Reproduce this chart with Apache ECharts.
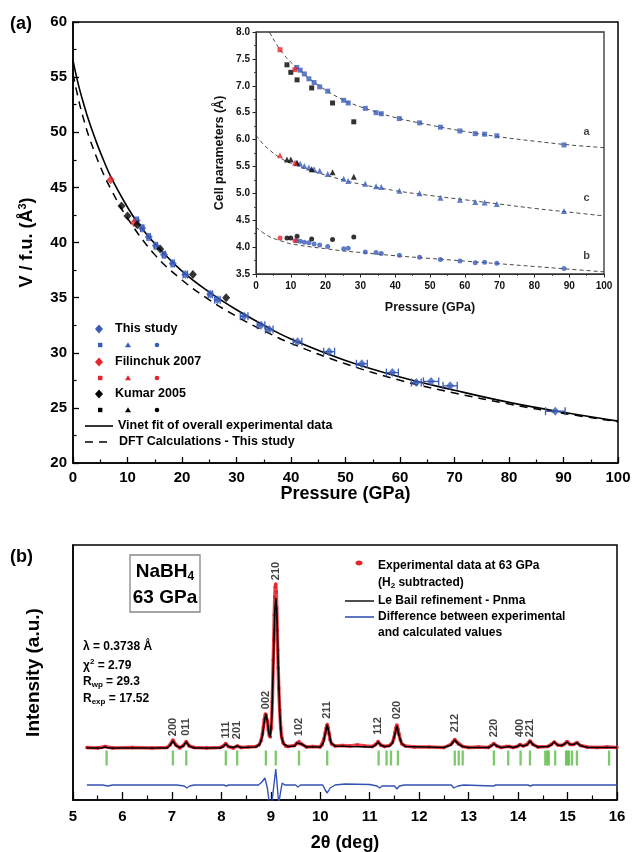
<!DOCTYPE html>
<html><head><meta charset="utf-8">
<script src="https://cdn.jsdelivr.net/npm/echarts/dist/echarts.min.js"></script>
<style>html,body{margin:0;padding:0;background:#fff}#c{width:634px;height:852px}</style>
</head><body><div id="c"></div>
<script>
// ---------- Panel (a): volume per formula unit vs pressure ----------
const thisStudyP = [11.7,12.7,13.9,15.2,16.7,18.3,20.6,25.2,26.5,31.4,34.5,36.0,41.2,47.0,53.0,58.6,63.0,65.7,69.2,88.5];
const thisStudyV = [42.0,41.3,40.5,39.7,38.9,38.1,37.1,35.3,34.8,33.3,32.5,32.1,31.0,30.1,29.0,28.2,27.3,27.4,27.0,24.7];
const thisStudyPErr = [0.3,0.3,0.3,0.3,0.3,0.3,0.4,0.4,0.5,0.7,0.7,0.7,0.8,1.0,1.0,1.1,0.9,1.4,1.3,1.8];
const filinchukP = [6.9,11.2];
const filinchukV = [45.7,41.8];
const kumarP = [8.9,10.0,11.8,16.0,22.0,28.1];
const kumarV = [43.3,42.4,41.6,39.4,37.1,35.0];
const vinetP = [0,1,2,3,4,5,7,10,12,15,20,25,30,35,40,50,60,70,80,90,100];
const vinetV = [56.5,54.3,52.5,50.9,49.5,48.2,45.9,43.2,41.7,39.9,37.4,35.5,33.9,32.5,31.25,29.3,27.8,26.6,25.5,24.6,23.8];
const dftP = [0,1,2,3,5,7,10,15,20,25,30,35,40,50,60,70,80,90,100];
const dftV = [55.3,53.0,51.1,49.5,46.9,44.8,42.2,38.9,36.6,34.8,33.3,32.0,30.85,29.0,27.5,26.35,25.35,24.5,23.75];

// ---------- Inset: cell parameters ----------
const aThis = [7.34,7.29,7.22,7.13,7.06,6.98,6.90,6.73,6.68,6.58,6.50,6.48,6.39,6.31,6.23,6.16,6.11,6.10,6.07,5.90];
const cThis = [5.56,5.55,5.51,5.48,5.45,5.42,5.36,5.27,5.23,5.18,5.13,5.12,5.05,5.00,4.92,4.88,4.84,4.83,4.80,4.67];
const bThis = [4.12,4.11,4.09,4.08,4.06,4.04,4.01,3.97,3.98,3.91,3.90,3.88,3.85,3.81,3.77,3.74,3.71,3.72,3.70,3.60];
const aFilinchuk = [7.67,7.30];
const cFilinchuk = [5.71,5.57];
const bFilinchuk = [4.17,4.12];
const aKumar = [7.39,7.25,7.11,6.96,6.68,6.33];
const cKumar = [5.63,5.63,5.57,5.45,5.39,5.31];
const bKumar = [4.17,4.17,4.20,4.15,4.14,4.19];
const fitP = [0,2,4,6,8,10,12,15,20,25,30,40,50,60,70,80,90,100];
const aFit = [8.45,8.20,7.98,7.76,7.58,7.44,7.32,7.15,6.92,6.74,6.61,6.41,6.27,6.15,6.05,5.97,5.90,5.85];
const cFit = [6.08,5.92,5.80,5.70,5.62,5.56,5.51,5.44,5.34,5.25,5.17,5.05,4.96,4.88,4.80,4.72,4.65,4.58];
const bFit = [4.37,4.27,4.19,4.14,4.10,4.06,4.04,4.01,3.97,3.93,3.90,3.84,3.79,3.74,3.69,3.64,3.59,3.54];
const insetLabelP = [95,95,95];
const insetLabelVal = [6.15,4.92,3.83];
const insetLabelText = ['a','c','b'];

// ---------- Panel (b): diffraction pattern (2theta, intensity a.u.) ----------
const calcProfile = [[5.28,52],[5.58,52],[5.65,53],[5.72,52],[6.90,52],[6.96,54.5],[7.02,59],[7.08,54.5],[7.16,52.5],[7.23,54],[7.29,58],[7.35,54],[7.45,52],[7.98,52],[8.04,53.5],[8.09,56],[8.14,53.5],[8.24,52.5],[8.32,54],[8.40,52.5],[8.70,53],[8.78,56],[8.83,64],[8.87,79],[8.90,86],[8.93,79],[8.96,67],[8.99,63],[9.02,82],[9.05,135],[9.08,188],[9.10,202],[9.12,190],[9.15,135],[9.18,88],[9.21,64],[9.26,56],[9.35,53.5],[9.48,54],[9.53,57],[9.57,58],[9.62,56],[9.72,53],[10.00,53],[10.06,57],[10.10,66],[10.14,75],[10.18,66],[10.22,57],[10.30,54],[10.60,53.5],[11.05,53],[11.12,55],[11.17,58],[11.22,55],[11.30,53.5],[11.40,54],[11.46,57],[11.51,66],[11.55,74],[11.59,65],[11.64,57],[11.72,53.5],[12.50,52.5],[12.64,55],[12.72,60],[12.79,56],[12.88,53.5],[13.00,52.5],[13.40,52.5],[13.46,54],[13.51,56],[13.57,54],[13.66,52.5],[13.76,53],[13.82,53.5],[13.90,52.5],[13.98,53.5],[14.04,55],[14.10,54],[14.18,55],[14.24,59],[14.30,55.5],[14.40,53],[14.60,53.5],[14.67,55],[14.73,58],[14.80,55],[14.88,54.5],[14.94,56],[14.99,58],[15.05,55.5],[15.12,55.5],[15.19,57],[15.26,54.5],[15.40,52.5],[16.00,52.5]];
const obsProfile = [[5.28,52.5],[5.5,52],[5.65,53.5],[5.8,52],[6.2,52.5],[6.6,52],[6.9,52.5],[6.96,55],[7.02,60],[7.08,55],[7.16,52],[7.23,54.5],[7.29,58.5],[7.35,54],[7.45,52.5],[7.7,52],[7.98,52.5],[8.04,54],[8.09,56.5],[8.14,53.5],[8.24,52],[8.32,54],[8.40,52.5],[8.55,53],[8.70,53.5],[8.76,55],[8.80,59],[8.83,66],[8.85,73],[8.87,81],[8.89,86],[8.91,85],[8.93,79],[8.95,70],[8.97,64],[8.99,63],[9.01,72],[9.03,98],[9.05,140],[9.06,160],[9.07,185],[9.08,203],[9.09,213],[9.10,216],[9.11,208],[9.12,192],[9.13,170],[9.14,150],[9.15,132],[9.16,112],[9.18,90],[9.20,72],[9.22,63],[9.25,57],[9.30,54],[9.35,53.5],[9.48,54.5],[9.53,57],[9.57,58.5],[9.62,56],[9.72,53],[9.85,53.5],[10.00,53],[10.04,55],[10.07,60],[10.10,67],[10.12,72],[10.14,75.5],[10.16,72],[10.18,66],[10.20,60],[10.23,56],[10.30,54],[10.45,54.5],[10.60,54],[10.75,55],[10.90,54],[11.05,53.5],[11.12,55.5],[11.17,58.5],[11.22,55],[11.30,53.5],[11.40,54.5],[11.46,57.5],[11.49,62],[11.51,67],[11.53,72],[11.55,75],[11.57,71],[11.59,66],[11.62,60],[11.65,56],[11.72,54],[11.9,53],[12.2,53],[12.50,52.5],[12.64,55.5],[12.68,58],[12.72,60.5],[12.76,58],[12.79,56],[12.88,53.5],[13.00,52.5],[13.2,53],[13.40,52.5],[13.46,54.5],[13.51,56.5],[13.57,54],[13.66,52.5],[13.76,53.5],[13.82,53.5],[13.90,52.5],[13.98,53.5],[14.04,55.5],[14.10,54],[14.18,55.5],[14.24,59],[14.30,55.5],[14.40,53],[14.60,53.5],[14.67,55.5],[14.73,58],[14.80,55],[14.88,54.5],[14.94,56],[14.99,58.5],[15.05,55.5],[15.12,55.5],[15.19,57.5],[15.26,54.5],[15.40,53],[15.6,52.5],[15.8,53],[16.00,52.5]];
const diffProfile = [[5.28,15],[5.6,15],[5.7,14],[5.8,15],[7.0,15],[7.03,13.5],[7.1,15],[7.25,14],[7.3,12],[7.36,14],[7.45,15],[8.05,15],[8.1,14],[8.15,15],[8.75,15],[8.82,18],[8.88,22],[8.93,12],[8.97,-3],[9.02,-3],[9.06,14],[9.10,31],[9.13,14],[9.16,-4],[9.19,6],[9.23,17],[9.28,15],[9.5,15],[9.55,13],[9.6,15],[10.05,15],[10.1,10],[10.14,7],[10.2,12],[10.3,15],[10.5,16],[11.0,15.5],[11.15,14],[11.2,12],[11.25,14],[11.5,14],[11.55,11],[11.6,14],[11.7,15],[12.65,15],[12.7,12],[12.78,14],[12.9,15],[13.5,14],[13.55,15],[14.2,15],[14.25,14],[14.3,15],[16,15]];
const reflectionTT = [5.68,7.02,7.29,8.09,8.32,8.90,9.10,9.57,10.14,11.18,11.34,11.43,11.57,12.72,12.80,12.88,13.51,13.80,14.05,14.24,14.55,14.59,14.62,14.75,14.97,15.00,15.03,15.09,15.19,15.84];
const reflectionLevel = 42;
const peakLabelTT = [7.02,7.29,8.09,8.32,8.90,9.10,9.57,10.14,11.17,11.55,12.72,13.51,14.04,14.24];
const peakLabelI = [73,73,70,70,100,229,73,90,74,90,77,72,72,72];
const peakLabelText = ['200','011','111','201','002','210','102','211','112','020','212','220','400','221'];

// ---------- styling ----------
const F = '"Liberation Sans", Arial, Helvetica, sans-serif';
const BLUE = '#3a5bb8', RED = '#e5242b', GREEN = '#5cbb46', DIFF = '#3452b4';
const DIAMOND = 'path://M0,-1.1L1,0L0,1.1L-1,0Z';
const pairs = (xs, ys) => xs.map((x, i) => [x, ys[i]]);

function mainAxisCommon(extra) {
  return Object.assign({
    type: 'value', nameLocation: 'middle', nameMoveOverlap: false,
    axisLine: {show: true, onZero: false, lineStyle: {color: '#000', width: 1.5}},
    axisTick: {show: true, inside: true, length: 6, lineStyle: {color: '#000', width: 1.3}},
    minorTick: {show: true, splitNumber: 2, length: 3.5, lineStyle: {color: '#000', width: 1.2}},
    splitLine: {show: false},
    axisLabel: {color: '#000', fontFamily: F, fontWeight: 'bold', fontSize: 15},
    nameTextStyle: {color: '#000', fontFamily: F, fontWeight: 'bold', fontSize: 18}
  }, extra);
}
function insetAxisCommon(extra) {
  return Object.assign({
    type: 'value', nameLocation: 'middle', nameMoveOverlap: false, gridIndex: 1,
    axisLine: {show: true, onZero: false, lineStyle: {color: '#222', width: 1}},
    axisTick: {show: true, inside: false, length: 3.5, lineStyle: {color: '#222', width: 1}},
    minorTick: {show: true, splitNumber: 2, length: 2, lineStyle: {color: '#222', width: 0.8}},
    splitLine: {show: false},
    axisLabel: {color: '#111', fontFamily: F, fontWeight: 'bold', fontSize: 10},
    nameTextStyle: {color: '#111', fontFamily: F, fontWeight: 'bold', fontSize: 12.5}
  }, extra);
}

const chart = echarts.init(document.getElementById('c'));

// legend graphics for panel (a)
const G = [];
function txt(x, y, text, size, extra) {
  G.push({type: 'text', x: x, y: y, z: 100, style: Object.assign({text: text, fill: '#000', font: 'bold ' + size + 'px ' + F, textAlign: 'left', textVerticalAlign: 'middle'}, extra || {})});
}
function diamond(x, y, c) { G.push({type: 'polygon', z: 100, shape: {points: [[x, y - 4.5], [x + 4, y], [x, y + 4.5], [x - 4, y]]}, style: {fill: c}}); }
function smallRow(y, c) {
  G.push({type: 'rect', z: 100, shape: {x: 98, y: y - 2.2, width: 4.4, height: 4.4}, style: {fill: c}});
  G.push({type: 'polygon', z: 100, shape: {points: [[128, y - 2.8], [131, y + 2.2], [125, y + 2.2]]}, style: {fill: c}});
  G.push({type: 'circle', z: 100, shape: {cx: 157, cy: y, r: 2.3}, style: {fill: c}});
}
diamond(99, 329, BLUE); txt(115, 329, 'This study', 12.5); smallRow(345, BLUE);
diamond(99, 362, RED); txt(115, 362, 'Filinchuk 2007', 12.5); smallRow(378, RED);
diamond(99, 394, '#000'); txt(115, 394, 'Kumar 2005', 12.5); smallRow(410, '#000');
G.push({type: 'line', z: 100, shape: {x1: 85, y1: 426, x2: 113, y2: 426}, style: {stroke: '#000', lineWidth: 1.6}});
txt(118, 426, 'Vinet fit of overall experimental data', 12.5);
G.push({type: 'line', z: 100, shape: {x1: 85, y1: 442, x2: 113, y2: 442}, style: {stroke: '#000', lineWidth: 1.6, lineDash: [8, 6]}});
txt(119, 442, 'DFT Calculations - This study', 12.5);
txt(10, 24, '(a)', 18);
txt(10, 557, '(b)', 18);
// panel (b) annotations
G.push({type: 'rect', z: 100, shape: {x: 130, y: 555, width: 70, height: 57}, style: {fill: '#fff', stroke: '#888', lineWidth: 1.3}});
txt(165, 572, 'NaBH{s|4}', 19, {textAlign: 'center', rich: {s: {fontSize: 12, fontWeight: 'bold', fontFamily: F, verticalAlign: 'bottom', padding: [10, 0, 0, 0]}}});
txt(165, 598, '63 GPa', 19, {textAlign: 'center'});
txt(83, 647, 'λ = 0.3738 Å', 12);
txt(83, 666, 'χ{t|2} = 2.79', 12, {rich: {t: {fontSize: 8, fontWeight: 'bold', fontFamily: F, verticalAlign: 'top', padding: [0, 0, 8, 0]}}});
txt(83, 682, 'R{s|wp} = 29.3', 12, {rich: {s: {fontSize: 8, fontWeight: 'bold', fontFamily: F, verticalAlign: 'bottom', padding: [6, 0, 0, 0]}}});
txt(83, 699, 'R{s|exp} = 17.52', 12, {rich: {s: {fontSize: 8, fontWeight: 'bold', fontFamily: F, verticalAlign: 'bottom', padding: [6, 0, 0, 0]}}});
G.push({type: 'ellipse', z: 100, shape: {cx: 359, cy: 563, rx: 3.5, ry: 2.5}, style: {fill: RED}});
txt(378, 566, 'Experimental data at 63 GPa', 12);
txt(378, 583, '(H{s|2} subtracted)', 12, {rich: {s: {fontSize: 8, fontWeight: 'bold', fontFamily: F, verticalAlign: 'bottom', padding: [6, 0, 0, 0]}}});
G.push({type: 'line', z: 100, shape: {x1: 345, y1: 601, x2: 374, y2: 601}, style: {stroke: '#222', lineWidth: 1.6}});
txt(378, 601, 'Le Bail refinement - Pnma', 12);
G.push({type: 'line', z: 100, shape: {x1: 345, y1: 617, x2: 374, y2: 617}, style: {stroke: DIFF, lineWidth: 1.6}});
txt(378, 617, 'Difference between experimental', 12);
txt(378, 633, 'and calculated values', 12);

const option = {
  animation: false,
  backgroundColor: '#fff',
  textStyle: {fontFamily: F},
  grid: [
    {left: 73, right: 16, top: 22, height: 441, show: true, borderColor: '#000', borderWidth: 1.5, backgroundColor: 'transparent', outerBoundsMode: 'none', containLabel: false},
    {left: 256, right: 30, top: 32, height: 242, show: true, borderColor: '#333', borderWidth: 1.3, backgroundColor: 'transparent', outerBoundsMode: 'none', containLabel: false, z: 5},
    {left: 73, right: 17, top: 545, height: 255, show: true, borderColor: '#000', borderWidth: 1.5, backgroundColor: 'transparent', outerBoundsMode: 'none', containLabel: false}
  ],
  xAxis: [
    mainAxisCommon({gridIndex: 0, min: 0, max: 100, interval: 10, name: 'Pressure (GPa)', nameGap: 22, axisLabel: {color: '#000', fontFamily: F, fontWeight: 'bold', fontSize: 15, margin: 7}}),
    insetAxisCommon({min: 0, max: 100, interval: 10, name: 'Pressure (GPa)', nameGap: 27, axisLabel: {color: '#111', fontFamily: F, fontWeight: 'bold', fontSize: 10, margin: 7}}),
    mainAxisCommon({gridIndex: 2, min: 5, max: 16, interval: 1, name: '2θ (deg)', nameGap: 34, axisTick: {show: true, inside: true, length: 8, lineStyle: {color: '#000', width: 1.3}}, minorTick: {show: true, splitNumber: 2, length: 4.5, lineStyle: {color: '#000', width: 1.2}}, axisLabel: {color: '#000', fontFamily: F, fontWeight: 'bold', fontSize: 15, margin: 9}})
  ],
  yAxis: [
    mainAxisCommon({gridIndex: 0, min: 20, max: 60, interval: 5, name: 'V / f.u. (Å{sup|3})', nameGap: 36,
      axisLabel: {color: '#000', fontFamily: F, fontWeight: 'bold', fontSize: 15, margin: 6},
      nameTextStyle: {color: '#000', fontFamily: F, fontWeight: 'bold', fontSize: 18, rich: {sup: {fontSize: 11, fontWeight: 'bold', fontFamily: F, color: '#000', verticalAlign: 'top', padding: [0, 0, 9, 0]}}}}),
    insetAxisCommon({min: 3.5, max: 8.0, interval: 0.5, name: 'Cell parameters (Å)', nameGap: 30,
      axisLabel: {color: '#111', fontFamily: F, fontWeight: 'bold', fontSize: 10, margin: 6, formatter: v => v.toFixed(1)}}),
    mainAxisCommon({gridIndex: 2, min: 0, max: 255, name: 'Intensity (a.u.)', nameGap: 30, axisLabel: {show: false}, axisTick: {show: false}, minorTick: {show: false},
      nameTextStyle: {color: '#000', fontFamily: F, fontWeight: 'bold', fontSize: 19}})
  ],
  graphic: {elements: G},
  series: [
    // main panel
    {type: 'line', xAxisIndex: 0, yAxisIndex: 0, data: pairs(vinetP, vinetV), smooth: 0.4, showSymbol: false, lineStyle: {color: '#000', width: 1.6}, z: 2},
    {type: 'line', xAxisIndex: 0, yAxisIndex: 0, data: pairs(dftP, dftV), smooth: 0.4, showSymbol: false, lineStyle: {color: '#000', width: 1.5, type: [8, 6]}, z: 2},
    {type: 'custom', xAxisIndex: 0, yAxisIndex: 0, z: 3,
      data: thisStudyP.map((p, i) => [p, thisStudyV[i], thisStudyPErr[i]]),
      renderItem: function (params, api) {
        const p = api.value(0), v = api.value(1), e = api.value(2);
        const a = api.coord([p - e, v]), b = api.coord([p + e, v]);
        const h = 4, st = {stroke: BLUE, lineWidth: 1.3, fill: null};
        return {type: 'group', children: [
          {type: 'line', shape: {x1: a[0], y1: a[1], x2: b[0], y2: b[1]}, style: st},
          {type: 'line', shape: {x1: a[0], y1: a[1] - h, x2: a[0], y2: a[1] + h}, style: st},
          {type: 'line', shape: {x1: b[0], y1: b[1] - h, x2: b[0], y2: b[1] + h}, style: st}
        ]};
      }},
    {type: 'scatter', xAxisIndex: 0, yAxisIndex: 0, data: pairs(thisStudyP, thisStudyV), symbol: DIAMOND, symbolSize: [8, 9], itemStyle: {color: BLUE}, z: 4},
    {type: 'scatter', xAxisIndex: 0, yAxisIndex: 0, data: pairs(filinchukP, filinchukV), symbol: DIAMOND, symbolSize: [8, 9], itemStyle: {color: RED}, z: 4},
    {type: 'scatter', xAxisIndex: 0, yAxisIndex: 0, data: pairs(kumarP, kumarV), symbol: DIAMOND, symbolSize: [8, 9], itemStyle: {color: '#000'}, z: 4},
    // inset
    {type: 'line', xAxisIndex: 1, yAxisIndex: 1, data: pairs(fitP, aFit), smooth: 0.4, showSymbol: false, clip: true, lineStyle: {color: '#333', width: 0.9, type: [4, 3]}, z: 6},
    {type: 'line', xAxisIndex: 1, yAxisIndex: 1, data: pairs(fitP, cFit), smooth: 0.4, showSymbol: false, clip: true, lineStyle: {color: '#333', width: 0.9, type: [4, 3]}, z: 6},
    {type: 'line', xAxisIndex: 1, yAxisIndex: 1, data: pairs(fitP, bFit), smooth: 0.4, showSymbol: false, clip: true, lineStyle: {color: '#333', width: 0.9, type: [4, 3]}, z: 6},
    {type: 'scatter', xAxisIndex: 1, yAxisIndex: 1, data: pairs(thisStudyP, aThis), symbol: 'rect', symbolSize: 5, itemStyle: {color: BLUE}, z: 7},
    {type: 'scatter', xAxisIndex: 1, yAxisIndex: 1, data: pairs(thisStudyP, cThis), symbol: 'triangle', symbolSize: 6, itemStyle: {color: BLUE}, z: 7},
    {type: 'scatter', xAxisIndex: 1, yAxisIndex: 1, data: pairs(thisStudyP, bThis), symbol: 'circle', symbolSize: 5, itemStyle: {color: BLUE}, z: 7},
    {type: 'scatter', xAxisIndex: 1, yAxisIndex: 1, data: pairs(kumarP, aKumar), symbol: 'rect', symbolSize: 5, itemStyle: {color: '#000'}, z: 7},
    {type: 'scatter', xAxisIndex: 1, yAxisIndex: 1, data: pairs(kumarP, cKumar), symbol: 'triangle', symbolSize: 6, itemStyle: {color: '#000'}, z: 7},
    {type: 'scatter', xAxisIndex: 1, yAxisIndex: 1, data: pairs(kumarP, bKumar), symbol: 'circle', symbolSize: 5, itemStyle: {color: '#000'}, z: 7},
    {type: 'scatter', xAxisIndex: 1, yAxisIndex: 1, data: pairs(filinchukP, aFilinchuk), symbol: 'rect', symbolSize: 5, itemStyle: {color: RED}, z: 8},
    {type: 'scatter', xAxisIndex: 1, yAxisIndex: 1, data: pairs(filinchukP, cFilinchuk), symbol: 'triangle', symbolSize: 6, itemStyle: {color: RED}, z: 8},
    {type: 'scatter', xAxisIndex: 1, yAxisIndex: 1, data: pairs(filinchukP, bFilinchuk), symbol: 'circle', symbolSize: 5, itemStyle: {color: RED}, z: 8},
    {type: 'scatter', xAxisIndex: 1, yAxisIndex: 1, data: insetLabelP.map((p, i) => ({value: [p, insetLabelVal[i]], name: insetLabelText[i]})),
      symbolSize: 1, itemStyle: {color: 'transparent'}, z: 8,
      label: {show: true, position: 'inside', formatter: p => p.name, color: '#111', fontFamily: F, fontWeight: 'bold', fontSize: 11}},
    // panel (b)
    {type: 'line', xAxisIndex: 2, yAxisIndex: 2, data: obsProfile, showSymbol: true, symbol: 'circle', symbolSize: 3.5, itemStyle: {color: RED}, lineStyle: {color: RED, width: 3.5, opacity: 0.85}, z: 2},
    {type: 'line', xAxisIndex: 2, yAxisIndex: 2, data: calcProfile, showSymbol: false, lineStyle: {color: '#000', width: 1.6}, z: 3},
    {type: 'line', xAxisIndex: 2, yAxisIndex: 2, data: diffProfile, showSymbol: false, clip: true, lineStyle: {color: DIFF, width: 1.4}, z: 3},
    {type: 'scatter', xAxisIndex: 2, yAxisIndex: 2, data: reflectionTT.map(t => [t, reflectionLevel]), symbol: 'rect', symbolSize: [2.3, 15], itemStyle: {color: GREEN}, z: 3},
    {type: 'scatter', xAxisIndex: 2, yAxisIndex: 2, data: peakLabelTT.map((t, i) => ({value: [t, peakLabelI[i]], name: peakLabelText[i]})),
      symbolSize: 1, itemStyle: {color: 'transparent'}, z: 4,
      label: {show: true, position: 'inside', rotate: 90, formatter: p => p.name, color: '#111', fontFamily: F, fontWeight: 'bold', fontSize: 11}}
  ]
};
chart.setOption(option);
</script>
</body></html>
